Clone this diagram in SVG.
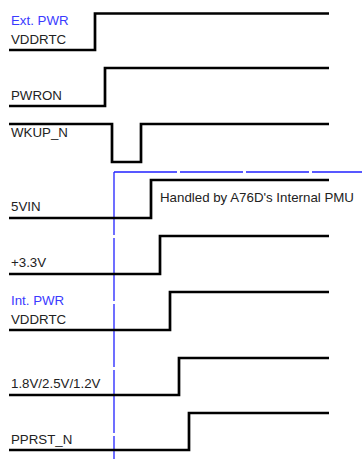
<svg xmlns="http://www.w3.org/2000/svg" width="362" height="459" viewBox="0 0 362 459">
<style>
.w{fill:none;stroke:#000;stroke-width:2.7;stroke-linejoin:miter;stroke-linecap:butt}
.t{font-family:"Liberation Sans",Arial,sans-serif;font-size:13.3px;fill:#222}
.b{font-family:"Liberation Sans",Arial,sans-serif;font-size:13.3px;fill:#3a3aff}
.d{fill:none;stroke:#2222ff;stroke-width:1.3;stroke-dasharray:63 3}
</style>
<rect width="362" height="459" fill="#fff"/>
<g id="connectors">
<path class="d" d="M114 172H362"/>
<path class="d" d="M114 172V459"/>
</g>
<g id="ext-vddrtc">
<path class="w" d="M9 50H95V13.5H329"/>
<text class="b" x="11" y="25">Ext. PWR</text>
<text class="t" x="11" y="44">VDDRTC</text>
</g>
<g id="pwron">
<path class="w" d="M9 106H105V68H329"/>
<text class="t" x="11" y="100">PWRON</text>
</g>
<g id="wkup">
<path class="w" d="M9 124H112V162H141V124H329"/>
<text class="t" x="11" y="137">WKUP_N</text>
</g>
<g id="v5in">
<path class="w" d="M9 218H151V180H329"/>
<text class="t" x="11" y="210.5">5VIN</text>
<text class="t" x="160" y="202">Handled by A76D's Internal PMU</text>
</g>
<g id="v33">
<path class="w" d="M9 274H160V236H329"/>
<text class="t" x="11" y="266.5">+3.3V</text>
</g>
<g id="int-vddrtc">
<path class="w" d="M9 330H170V292H329"/>
<text class="b" x="11" y="305">Int. PWR</text>
<text class="t" x="11" y="324">VDDRTC</text>
</g>
<g id="v18">
<path class="w" d="M9 395H179V358H329"/>
<text class="t" x="11" y="388">1.8V/2.5V/1.2V</text>
</g>
<g id="pprst">
<path class="w" d="M9 450H189V413H329"/>
<text class="t" x="11" y="444">PPRST_N</text>
</g>
</svg>
